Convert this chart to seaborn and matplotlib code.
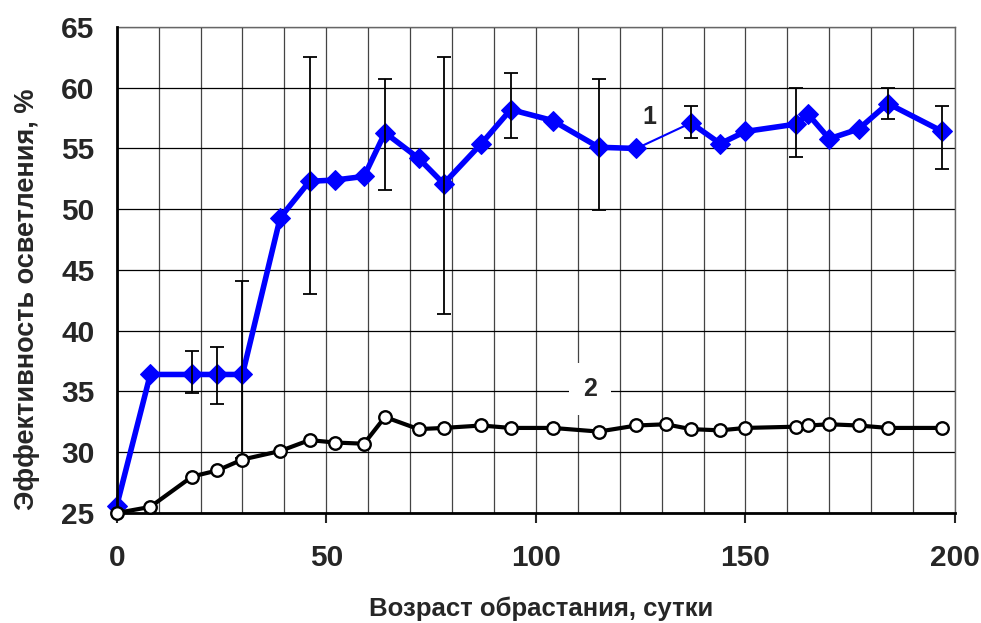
import numpy as np
import pandas as pd
import matplotlib
matplotlib.use("Agg")
import matplotlib.pyplot as plt
from matplotlib.ticker import MultipleLocator
import seaborn as sns

sns.set_style("white")
plt.rcParams['font.family'] = ['Liberation Sans', 'DejaVu Sans']
plt.rcParams['font.weight'] = 'bold'
plt.rcParams['axes.labelweight'] = 'bold'

# days of fouling
days = [0, 8, 18, 24, 30, 39, 46, 52, 59, 64, 72, 78, 87, 94, 104, 115, 124,
        131, 137, 144, 150, 162, 165, 170, 177, 184, 197]
# curve 1 (no value at day 131)
eff_1 = [25.6, 36.4, 36.4, 36.4, 36.4, 49.3, 52.3, 52.4, 52.7, 56.3, 54.2, 52.1,
         55.4, 58.2, 57.3, 55.1, 55.0, np.nan, 57.1, 55.4, 56.4, 57.0, 57.8, 55.8,
         56.6, 58.7, 56.4]
# curve 2
eff_2 = [25.0, 25.5, 28.0, 28.5, 29.4, 30.1, 31.0, 30.8, 30.7, 32.9, 31.9, 32.0,
         32.2, 32.0, 32.0, 31.7, 32.2, 32.3, 31.9, 31.8, 32.0, 32.1, 32.2, 32.3,
         32.2, 32.0, 32.0]

# error bar bounds for curve 1
err_days = [18, 24, 30, 46, 64, 78, 94, 115, 137, 162, 184, 197]
err_low = [34.9, 34.0, 29.5, 43.0, 51.6, 41.4, 55.9, 49.9, 55.9, 54.3, 57.45, 53.3]
err_high = [38.3, 38.7, 44.1, 62.5, 60.7, 62.5, 61.2, 60.7, 58.5, 60.0, 60.0, 58.5]


def main():
    df = pd.DataFrame({'day': days, 'e1': eff_1, 'e2': eff_2})
    df['seg'] = df['e1'].isna().cumsum()
    d1 = df.dropna(subset=['e1'])

    fig, ax = plt.subplots(figsize=(9.81, 6.23), dpi=100)
    fig.subplots_adjust(left=0.119, right=0.9735, top=0.9567, bottom=0.1766)

    # thin connection over the missing point, then thick segments
    sns.lineplot(data=d1, x='day', y='e1', color='#0000FF', lw=1.5, ax=ax,
                 estimator=None, zorder=3)
    sns.lineplot(data=d1, x='day', y='e1', units='seg', estimator=None,
                 color='#0000FF', lw=4, marker='D', markersize=10.5,
                 markeredgecolor='#0000FF', ax=ax, zorder=3, clip_on=False)

    centers = df.set_index('day').loc[err_days, 'e1'].values
    yerr = [centers - np.array(err_low), np.array(err_high) - centers]
    ax.errorbar(err_days, centers, yerr=yerr, fmt='none', ecolor='black',
                elinewidth=1.3, capsize=5, capthick=1.3, zorder=4)

    sns.lineplot(data=df, x='day', y='e2', color='black', lw=3, marker='o',
                 markersize=9, markerfacecolor='white', markeredgecolor='black',
                 markeredgewidth=1.7, ax=ax, estimator=None, zorder=5,
                 clip_on=False)

    ax.text(127, 57.6, '1', fontsize=18, fontweight='bold', ha='center',
            va='center', zorder=6)
    ax.text(113, 35.2, '2', fontsize=18, fontweight='bold', ha='center',
            va='center', zorder=6,
            bbox=dict(facecolor='white', edgecolor='none', pad=10))

    ax.set_xlim(0, 200)
    ax.set_ylim(25, 65)
    ax.xaxis.set_major_locator(MultipleLocator(50))
    ax.xaxis.set_minor_locator(MultipleLocator(10))
    ax.yaxis.set_major_locator(MultipleLocator(5))
    ax.grid(which='major', axis='y', color='black', lw=0.9)
    ax.grid(which='both', axis='x', color='#444444', lw=0.9)
    ax.set_axisbelow(True)

    ax.tick_params(axis='x', which='major', length=7, width=1.5, direction='out',
                   pad=15, labelsize=21.5, bottom=True)
    ax.tick_params(axis='x', which='minor', length=0)
    ax.tick_params(axis='y', length=0, pad=16, labelsize=21.5)

    for s in ['top', 'right']:
        ax.spines[s].set_color('#666666')
        ax.spines[s].set_linewidth(1)
    for s in ['left', 'bottom']:
        ax.spines[s].set_color('black')
        ax.spines[s].set_linewidth(2)
        ax.spines[s].set_zorder(4)

    ax.set_xlabel('Возраст обрастания, сутки', fontsize=18.5, fontweight='bold')
    ax.set_ylabel('Эффективность осветления, %', fontsize=19.5, fontweight='bold')
    ax.xaxis.set_label_coords(0.506, -0.171)
    ax.yaxis.set_label_coords(-0.092, 0.44)

    fig.savefig('out.png', dpi=100)


if __name__ == '__main__':
    main()
